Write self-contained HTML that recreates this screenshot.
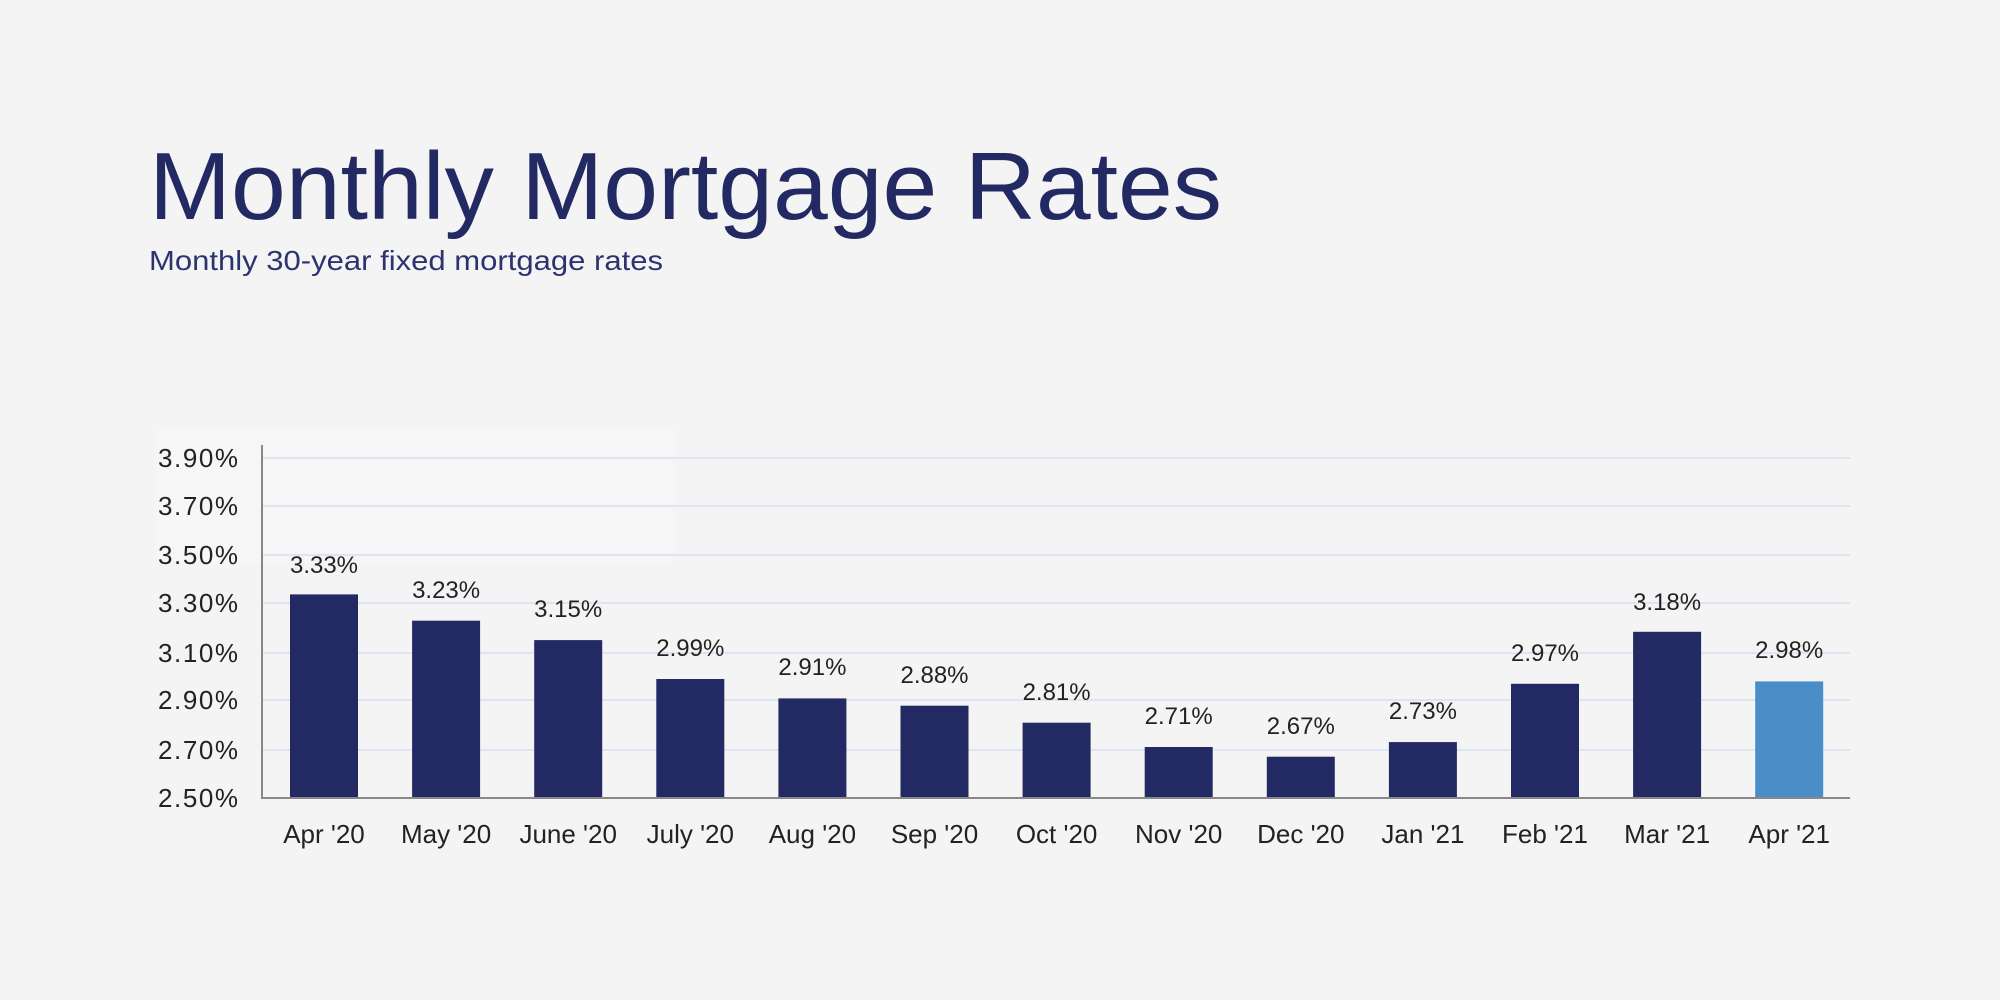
<!DOCTYPE html>
<html><head><meta charset="utf-8"><style>
html,body{margin:0;padding:0;background:#f4f4f4;}
svg{display:block;font-family:"Liberation Sans",sans-serif;}
</style></head><body>
<svg width="2000" height="1000" viewBox="0 0 2000 1000" xmlns="http://www.w3.org/2000/svg">
<rect width="2000" height="1000" fill="#f4f4f4"/>
<rect x="156" y="428" width="518" height="135" fill="#f6f6f6"/>
<text x="149" y="219" font-size="96" fill="#232a63" textLength="1073" lengthAdjust="spacingAndGlyphs">Monthly Mortgage Rates</text>
<text x="149" y="270" font-size="28" fill="#2c3470" textLength="514" lengthAdjust="spacingAndGlyphs">Monthly 30-year fixed mortgage rates</text>
<g stroke="#dde4f2" stroke-width="2">
<line x1="262" x2="1850" y1="458" y2="458"/>
<line x1="262" x2="1850" y1="506" y2="506"/>
<line x1="262" x2="1850" y1="555" y2="555"/>
<line x1="262" x2="1850" y1="603" y2="603"/>
<line x1="262" x2="1850" y1="653" y2="653"/>
<line x1="262" x2="1850" y1="700" y2="700"/>
<line x1="262" x2="1850" y1="750" y2="750"/>
</g>
<g font-size="26" fill="#222" text-anchor="end">
<text x="238" y="467" textLength="80" lengthAdjust="spacing">3.90%</text>
<text x="238" y="515" textLength="80" lengthAdjust="spacing">3.70%</text>
<text x="238" y="564" textLength="80" lengthAdjust="spacing">3.50%</text>
<text x="238" y="612" textLength="80" lengthAdjust="spacing">3.30%</text>
<text x="238" y="662" textLength="80" lengthAdjust="spacing">3.10%</text>
<text x="238" y="709" textLength="80" lengthAdjust="spacing">2.90%</text>
<text x="238" y="759" textLength="80" lengthAdjust="spacing">2.70%</text>
<text x="238" y="807" textLength="80" lengthAdjust="spacing">2.50%</text>
</g>
<g fill="#232a63">
<rect x="290" y="594.4" width="68" height="203.6"/>
<rect x="412.1" y="620.7" width="68" height="177.3"/>
<rect x="534.2" y="640.1" width="68" height="157.9"/>
<rect x="656.3" y="679" width="68" height="119"/>
<rect x="778.4" y="698.4" width="68" height="99.6"/>
<rect x="900.5" y="705.7" width="68" height="92.3"/>
<rect x="1022.6" y="722.7" width="68" height="75.3"/>
<rect x="1144.7" y="747" width="68" height="51"/>
<rect x="1266.8" y="756.7" width="68" height="41.3"/>
<rect x="1388.9" y="742.1" width="68" height="55.9"/>
<rect x="1511" y="683.8" width="68" height="114.2"/>
<rect x="1633.1" y="631.8" width="68" height="166.2"/>
<rect x="1755.2" y="681.4" width="68" height="116.6" fill="#4a8ec9"/>
</g>
<g font-size="24" fill="#222" text-anchor="middle">
<text x="324" y="573">3.33%</text>
<text x="446.1" y="598">3.23%</text>
<text x="568.2" y="617">3.15%</text>
<text x="690.3" y="656">2.99%</text>
<text x="812.4" y="675">2.91%</text>
<text x="934.5" y="683">2.88%</text>
<text x="1056.6" y="700">2.81%</text>
<text x="1178.7" y="724">2.71%</text>
<text x="1300.8" y="734">2.67%</text>
<text x="1422.9" y="719">2.73%</text>
<text x="1545" y="661">2.97%</text>
<text x="1667.1" y="610">3.18%</text>
<text x="1789.2" y="658">2.98%</text>
</g>
<g font-size="26" fill="#222" text-anchor="middle">
<text x="324" y="843">Apr '20</text>
<text x="446.1" y="843">May '20</text>
<text x="568.2" y="843">June '20</text>
<text x="690.3" y="843">July '20</text>
<text x="812.4" y="843">Aug '20</text>
<text x="934.5" y="843">Sep '20</text>
<text x="1056.6" y="843">Oct '20</text>
<text x="1178.7" y="843">Nov '20</text>
<text x="1300.8" y="843">Dec '20</text>
<text x="1422.9" y="843">Jan '21</text>
<text x="1545" y="843">Feb '21</text>
<text x="1667.1" y="843">Mar '21</text>
<text x="1789.2" y="843">Apr '21</text>
</g>
<line x1="262" x2="262" y1="445" y2="799" stroke="#888" stroke-width="2"/>
<line x1="261" x2="1850" y1="798" y2="798" stroke="#888" stroke-width="2"/>
</svg>
</body></html>
